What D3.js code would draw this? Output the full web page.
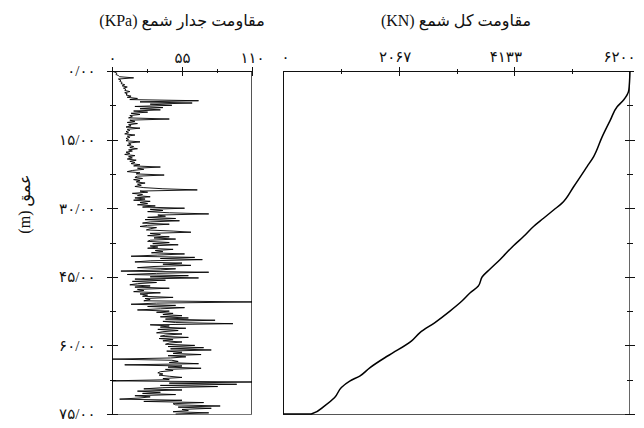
<!DOCTYPE html>
<html>
<head>
<meta charset="utf-8">
<title>Pile resistance</title>
<script src="https://d3js.org/d3.v7.min.js"></script>
<style>
  body { margin: 0; background: #fff; }
  svg { display: block; }
  text { font-family: "Liberation Serif", "DejaVu Sans", serif; fill: #111; }
  .axis path, .axis line { stroke: #111; shape-rendering: crispEdges; }
</style>
</head>
<body>
<script>
var width = 644, height = 428;

// depth axis
var depthTicks = [0, 15, 30, 45, 60, 75];
var depthMinor = [7.5, 22.5, 37.5, 52.5, 67.5];
var depthLabels = ["۰/۰۰", "۱۵/۰۰", "۳۰/۰۰", "۴۵/۰۰", "۶۰/۰۰", "۷۵/۰۰"];

// skin friction axis (KPa)
var skinTicks = [0, 55, 110];
var skinMinor = [27.5, 82.5];
var skinLabels = ["۰", "۵۵", "۱۱۰"];

// total resistance axis (KN)
var totalTicks = [0, 2067, 4133, 6200];
var totalMinor = [1033, 3100, 5167];
var totalLabels = ["۰", "۲۰۶۷", "۴۱۳۳", "۶۲۰۰"];

// skin friction, one reading every 0.25 m from 0 to 75 m
var skinStep = 0.25;
var skinValues = [
  0, 2, 4, 3, 5, 6, 17, 5, 7, 6, 8, 7, 10, 8, 12, 9, 11, 10, 14, 10,
  12, 11, 15, 12, 20, 14, 68, 22, 63, 30, 47, 18, 40, 22, 38, 17, 28, 15, 22, 14,
  16, 13, 45, 14, 18, 12, 20, 13, 15, 11, 22, 12, 14, 11, 13, 10, 18, 12, 14, 11,
  13, 11, 22, 13, 15, 12, 17, 14, 20, 13, 16, 11, 14, 10, 18, 13, 16, 12, 19, 14,
  18, 15, 22, 17, 38, 20, 25, 16, 12, 22, 19, 41, 20, 18, 24, 17, 22, 19, 26, 20,
  23, 18, 25, 40, 67, 22, 28, 16, 24, 20, 30, 18, 26, 17, 30, 22, 28, 20, 34, 24,
  57, 30, 40, 28, 45, 76, 36, 42, 28, 50, 26, 53, 30, 24, 45, 28, 22, 35, 30, 27,
  48, 62, 30, 38, 28, 45, 33, 50, 30, 28, 45, 32, 52, 30, 36, 28, 48, 34, 40, 31,
  57, 36, 15, 65, 38, 71, 30, 18, 55, 40, 62, 33, 20, 50, 38, 7, 76, 35, 12, 60,
  30, 68, 18, 42, 16, 35, 20, 14, 30, 18, 45, 20, 25, 17, 38, 22, 28, 24, 48, 26,
  30, 25, 110, 35, 15, 50, 28, 57, 38, 20, 45, 35, 48, 40, 55, 38, 60, 42, 81, 40,
  50, 95, 30, 45, 38, 58, 36, 52, 40, 35, 55, 42, 38, 60, 37, 48, 40, 55, 45, 42,
  65, 44, 72, 46, 78, 43, 55, 48, 70, 44, 58, 46, 0, 47, 52, 45, 68, 10, 55, 44,
  70, 42, 48, 38, 36, 40, 37, 45, 55, 40, 45, 0, 110, 45, 98, 38, 83, 40, 25, 55,
  20, 38, 24, 50, 18, 30, 22, 6, 55, 25, 72, 48, 50, 85, 52, 78, 55, 60, 48, 76,
  50
];

// total pile resistance against depth
var totalDepth = [0, 4.2, 6.3, 7.8, 10.7, 14.4, 18.7, 20.9, 25.3, 28.9, 30.4, 32.2, 34.0, 36.2, 38.2, 41.2,
  43.3, 45.0, 47.0, 48.5, 50.3, 52.5, 55.0, 57.2, 59.0, 61.6, 62.7, 64.9, 66.7, 67.8, 69.2, 71.4, 73.2, 75, 75];
var totalLoad = [6200, 6179, 6089, 5970, 5850, 5702, 5551, 5433, 5193, 4985, 4835, 4655, 4476, 4297, 4118, 3880,
  3700, 3560, 3490, 3345, 3197, 2983, 2715, 2447, 2298, 1968, 1819, 1550, 1371, 1192, 1043, 923, 744, 505, 0];

var y = d3.scaleLinear().domain([0, 75]).range([71, 414]);
var xSkin = d3.scaleLinear().domain([0, 110]).range([112, 252]);
var xTotal = d3.scaleLinear().domain([0, 6200]).range([283, 630]);

var svg = d3.select("body").append("svg")
    .attr("width", width)
    .attr("height", height);

// tick lines crossing the axis line
function crossTicks(g, vals, scale, orient, a, b) {
  g.selectAll(null).data(vals).enter().append("line")
    .attr("x1", function(d) { return orient === "h" ? Math.round(scale(d)) + 0.5 : a; })
    .attr("x2", function(d) { return orient === "h" ? Math.round(scale(d)) + 0.5 : b; })
    .attr("y1", function(d) { return orient === "h" ? a : Math.round(scale(d)) + 0.5; })
    .attr("y2", function(d) { return orient === "h" ? b : Math.round(scale(d)) + 0.5; })
    .attr("stroke", "#111")
    .attr("shape-rendering", "crispEdges");
}

// ---------- left panel: skin friction ----------
var left = svg.append("g");

// frame
left.append("line").attr("x1", 112.5).attr("x2", 112.5).attr("y1", 71).attr("y2", 414).attr("stroke", "#111");
left.append("line").attr("x1", 251.5).attr("x2", 251.5).attr("y1", 71).attr("y2", 414).attr("stroke", "#555");
left.append("line").attr("x1", 107).attr("x2", 252).attr("y1", 414.5).attr("y2", 414.5).attr("stroke", "#777");

var topSkin = d3.axisTop(xSkin).tickValues(skinTicks).tickSize(0).tickPadding(9)
    .tickFormat(function(d, i) { return skinLabels[i]; });
left.append("g").attr("class", "axis").attr("transform", "translate(0,71.5)").call(topSkin)
    .call(function(g) { g.select(".domain").attr("d", "M112,0H252"); })
    .selectAll("text").style("font-size", "15px");
crossTicks(left, skinTicks, xSkin, "h", 67, 76);
crossTicks(left, skinMinor, xSkin, "h", 69, 73);

var leftDepth = d3.axisLeft(y).tickValues(depthTicks).tickSize(0).tickPadding(17)
    .tickFormat(function(d, i) { return depthLabels[i]; });
left.append("g").attr("class", "axis").attr("transform", "translate(112.5,0)").call(leftDepth)
    .call(function(g) { g.select(".domain").remove(); })
    .selectAll("text").style("font-size", "15px");
crossTicks(left, depthTicks, y, "v", 107, 118);
crossTicks(left, depthMinor, y, "v", 110, 116);

var skinLine = d3.line()
    .x(function(d) { return xSkin(d); })
    .y(function(d, i) { return y(i * skinStep); });

left.append("path")
    .datum(skinValues)
    .attr("fill", "none")
    .attr("stroke", "#000")
    .attr("stroke-width", 0.9)
    .attr("stroke-linejoin", "miter")
    .attr("d", skinLine);

left.append("text")
    .attr("x", 182).attr("y", 26)
    .attr("text-anchor", "middle")
    .style("font-size", "16px")
    .text("(KPa) مقاومت جدار شمع");

// ---------- right panel: total resistance ----------
var right = svg.append("g");

right.append("line").attr("x1", 283.5).attr("x2", 283.5).attr("y1", 71).attr("y2", 414).attr("stroke", "#111");
right.append("line").attr("x1", 283).attr("x2", 630).attr("y1", 414.5).attr("y2", 414.5).attr("stroke", "#555");
right.append("line").attr("x1", 629.5).attr("x2", 629.5).attr("y1", 71).attr("y2", 414).attr("stroke", "#666");

var topTotal = d3.axisTop(xTotal).tickValues(totalTicks).tickSize(0).tickPadding(10)
    .tickFormat(function(d, i) { return totalLabels[i]; });
right.append("g").attr("class", "axis").attr("transform", "translate(0,71.5)").call(topTotal)
    .call(function(g) { g.select(".domain").attr("d", "M283,0H634"); })
    .selectAll("text").style("font-size", "15px").attr("dx", function(d, i) { return [2, -4, -9, -11][i]; });
crossTicks(right, totalTicks.slice(1, 3), xTotal, "h", 67, 76);
crossTicks(right, totalMinor, xTotal, "h", 69, 74);
crossTicks(right, depthTicks.slice(1), y, "v", 625, 635);
crossTicks(right, depthMinor, y, "v", 627, 633);

var totalLine = d3.line()
    .x(function(d) { return xTotal(d[1]); })
    .y(function(d) { return y(d[0]); })
    .curve(d3.curveMonotoneY);

right.append("path")
    .datum(d3.zip(totalDepth, totalLoad))
    .attr("fill", "none")
    .attr("stroke", "#000")
    .attr("stroke-width", 1.5)
    .attr("d", totalLine);

right.append("text")
    .attr("x", 456).attr("y", 26)
    .attr("text-anchor", "middle")
    .style("font-size", "16px")
    .text("(KN) مقاومت کل شمع");

// depth label
svg.append("text")
    .attr("transform", "translate(30,204) rotate(-90)")
    .attr("text-anchor", "middle")
    .style("font-size", "16px")
    .text("(m) عمق");
</script>
</body>
</html>
